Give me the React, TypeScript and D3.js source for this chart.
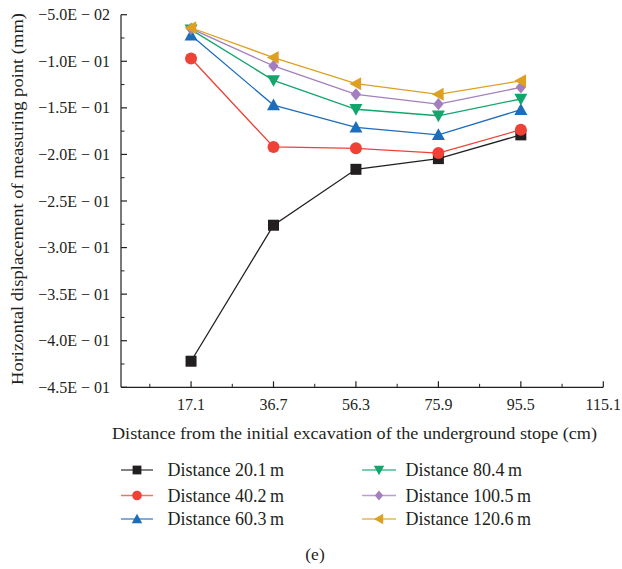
import React from "react";
import * as d3 from "d3";

const xTicks = [17.1, 36.7, 56.3, 75.9, 95.5, 115.1];
const yTicks = [-0.05, -0.1, -0.15, -0.2, -0.25, -0.3, -0.35, -0.4, -0.45];
const yTickLabels = ["−5.0E − 02", "−1.0E − 01", "−1.5E − 01", "−2.0E − 01", "−2.5E − 01", "−3.0E − 01", "−3.5E − 01", "−4.0E − 01", "−4.5E − 01"];
const xPositions = [17.1, 36.7, 56.3, 75.9, 95.5];

const seriesNames = ["Distance 20.1\u2009m", "Distance 40.2\u2009m", "Distance 60.3\u2009m", "Distance 80.4\u2009m", "Distance 100.5\u2009m", "Distance 120.6\u2009m"];
const d201 = [-0.422, -0.276, -0.216, -0.2045, -0.179];
const d402 = [-0.097, -0.192, -0.1934, -0.1985, -0.1735];
const d603 = [-0.072, -0.147, -0.171, -0.179, -0.152];
const d804 = [-0.066, -0.1205, -0.1515, -0.1585, -0.1405];
const d1005 = [-0.065, -0.105, -0.1355, -0.146, -0.128];
const d1206 = [-0.064, -0.096, -0.124, -0.1355, -0.121];
const seriesValues = [d201, d402, d603, d804, d1005, d1206];
const colors = ["#231f20", "#ef4136", "#1c6dbb", "#12a56c", "#a47fc0", "#dea021"];
const markers = ["square", "circle", "triangle", "triangleDown", "diamond", "triangleLeft"];

const FONT = "Liberation Serif";

function Marker({ type, x, y, color, s = 1 }: { type: string; x: number; y: number; color: string; s?: number }) {
  if (type === "square") return <rect x={x - 5.5 * s} y={y - 5.5 * s} width={11 * s} height={11 * s} fill={color} />;
  if (type === "circle") return <circle cx={x} cy={y} r={6 * s} fill={color} />;
  let pts: number[][] = [];
  const r = 6.5 * s;
  if (type === "triangle") pts = [[0, -r], [r, r * 0.8], [-r, r * 0.8]];
  if (type === "triangleDown") pts = [[0, r], [r, -r * 0.8], [-r, -r * 0.8]];
  if (type === "triangleLeft") pts = [[-r, 0], [r * 0.8, -r], [r * 0.8, r]];
  if (type === "diamond") pts = [[0, -r * 0.95], [r * 0.8, 0], [0, r * 0.95], [-r * 0.8, 0]];
  return <polygon points={pts.map((p) => `${x + p[0]},${y + p[1]}`).join(" ")} fill={color} />;
}

export default function App() {
  const W = 622, H = 569;
  const left = 121, right = 603.3, top = 14.7, bottom = 387.3;
  const x = d3.scaleLinear().domain([0.45, 115.1]).range([left, right]);
  const y = d3.scaleLinear().domain([-0.05, -0.45]).range([top, bottom]);
  const line = d3.line<number>().x((_, i) => x(xPositions[i])).y((v) => y(v));
  const xMinor = xTicks.map((t) => t - 9.8);
  const yMinor = yTicks.slice(0, -1).map((t) => t - 0.025);

  const legendRows = [470, 495.5, 519];
  const legendCols = [{ l0: 121, l1: 153, tx: 167.5 }, { l0: 362, l1: 396, tx: 405.5 }];
  const tick = { fontFamily: FONT, fontSize: 16, fill: "#231f20" } as const;
  const title = { fontFamily: FONT, fontSize: 17.5, fill: "#231f20" } as const;
  const leg = { fontFamily: FONT, fontSize: 18, fill: "#231f20" } as const;

  return (
    <svg width={W} height={H} style={{ position: "absolute", left: 0, top: 0, background: "#fff" }}>
      <rect width={W} height={H} fill="#fff" />
      {/* axes */}
      <line x1={left} x2={left} y1={top} y2={bottom} stroke="#231f20" strokeWidth={1.2} />
      <line x1={left} x2={right} y1={bottom} y2={bottom} stroke="#231f20" strokeWidth={1.2} />
      {yTicks.map((t, i) => (
        <g key={"y" + i}>
          <line x1={left} x2={left + 6} y1={y(t)} y2={y(t)} stroke="#231f20" strokeWidth={1.2} />
          <text x={left - 11} y={y(t)} dy="0.35em" textAnchor="end" style={tick}>{yTickLabels[i]}</text>
        </g>
      ))}
      {yMinor.map((t, i) => (
        <line key={"ym" + i} x1={left} x2={left + 3.5} y1={y(t)} y2={y(t)} stroke="#231f20" strokeWidth={1} />
      ))}
      {xTicks.map((t, i) => (
        <g key={"x" + i}>
          <line x1={x(t)} x2={x(t)} y1={bottom} y2={bottom - 6} stroke="#231f20" strokeWidth={1.2} />
          <text x={x(t)} y={bottom + 23} textAnchor="middle" style={tick}>{t.toFixed(1)}</text>
        </g>
      ))}
      {xMinor.map((t, i) => (
        <line key={"xm" + i} x1={x(t)} x2={x(t)} y1={bottom} y2={bottom - 3.5} stroke="#231f20" strokeWidth={1} />
      ))}
      <text x={354.5} y={439} textAnchor="middle" textLength={485} lengthAdjust="spacingAndGlyphs" style={title}>Distance from the initial excavation of the underground stope (cm)</text>
      <text transform={`translate(23,${(top + bottom) / 2 - 2}) rotate(-90)`} textAnchor="middle" textLength={372} lengthAdjust="spacingAndGlyphs" style={title}>Horizontal displacement of measuring point (mm)</text>

      {/* series */}
      {seriesValues.map((vals, si) => (
        <g key={"s" + si}>
          <path d={line(vals) || ""} fill="none" stroke={colors[si]} strokeWidth={1.3} />
        </g>
      ))}
      {seriesValues.map((vals, si) => (
        <g key={"m" + si}>
          {vals.map((v, i) => (
            <Marker key={i} type={markers[si]} x={x(xPositions[i])} y={y(v)} color={colors[si]} />
          ))}
        </g>
      ))}

      {/* legend */}
      {seriesNames.map((name, i) => {
        const col = legendCols[Math.floor(i / 3)];
        const ry = legendRows[i % 3];
        return (
          <g key={"l" + i}>
            <line x1={col.l0} x2={col.l1} y1={ry} y2={ry} stroke={colors[i]} strokeWidth={1.5} opacity={0.75} />
            <Marker type={markers[i]} x={(col.l0 + col.l1) / 2} y={ry} color={colors[i]} s={0.8} />
            <text x={col.tx} y={ry} dy="0.35em" style={leg}>{name}</text>
          </g>
        );
      })}
      <text x={315} y={554} dy="0.35em" textAnchor="middle" style={title}>(e)</text>
    </svg>
  );
}
